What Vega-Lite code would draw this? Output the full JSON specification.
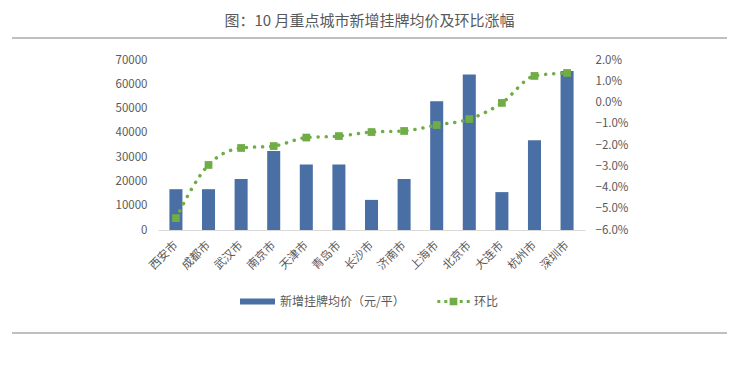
{
  "$schema": "https://vega.github.io/schema/vega-lite/v6.json",
  "autosize": "none",
  "width": 715,
  "height": 170,
  "padding": {"left": 12, "top": 60, "right": 13, "bottom": 142},
  "title": {"text": "图：10 月重点城市新增挂牌均价及环比涨幅", "fontSize": 15, "fontWeight": "normal", "color": "#595959", "anchor": "middle", "frame": "group", "offset": 8},
  "config": {
    "font": "Noto Sans CJK SC",
    "view": {"stroke": null},
    "axis": {"labelColor": "#595959", "labelFontSize": 11.5, "grid": false, "ticks": false, "title": null},
    "legend": {"labelColor": "#595959", "labelFontSize": 12}
  },
  "data": {"values": [
    {"city": "西安市", "price": 16800, "mom": -0.0544},
    {"city": "成都市", "price": 16800, "mom": -0.0294},
    {"city": "武汉市", "price": 21000, "mom": -0.0214},
    {"city": "南京市", "price": 32500, "mom": -0.0205},
    {"city": "天津市", "price": 27000, "mom": -0.0165},
    {"city": "青岛市", "price": 27000, "mom": -0.0158},
    {"city": "长沙市", "price": 12400, "mom": -0.0139},
    {"city": "济南市", "price": 21000, "mom": -0.0134},
    {"city": "上海市", "price": 53000, "mom": -0.0106},
    {"city": "北京市", "price": 64000, "mom": -0.0078},
    {"city": "大连市", "price": 15600, "mom": -0.0002},
    {"city": "杭州市", "price": 37000, "mom": 0.0125},
    {"city": "深圳市", "price": 65500, "mom": 0.0139}
  ]},
  "layer": [
    {
      "mark": {"type": "bar"},
      "encoding": {
        "x": {"field": "city", "type": "nominal", "sort": null,
          "scale": {"range": [146, 573], "paddingInner": 0.6, "paddingOuter": 0.35},
          "axis": {"labelAngle": -45, "domainColor": "#D9D9D9", "labelPadding": 9, "labelOffset": -4, "labelFontSize": 11.5}},
        "y": {"field": "price", "type": "quantitative",
          "scale": {"domain": [0, 70000]},
          "axis": {"values": [0, 10000, 20000, 30000, 40000, 50000, 60000, 70000], "format": "d", "domain": false, "labelPadding": 11, "offset": -146}},
        "color": {"datum": "新增挂牌均价（元/平）", "type": "nominal",
          "scale": {"range": ["#4A6FA5"]},
          "legend": {"orient": "none", "legendX": 228, "legendY": 224, "title": null, "symbolType": "M-1,-0.17H1V0.17H-1Z", "symbolSize": 1225, "symbolStrokeWidth": 0, "labelOffset": 5, "padding": 0}}
      }
    },
    {
      "layer": [
        {
          "mark": {"type": "rule", "stroke": "#BFBFBF", "strokeWidth": 1},
          "encoding": {"y": {"datum": 0.0304}}
        },
        {
          "mark": {"type": "rule", "stroke": "#BFBFBF", "strokeWidth": 1},
          "encoding": {"y": {"datum": -0.1085}}
        },
        {
          "mark": {"type": "line", "interpolate": "monotone", "strokeWidth": 3.5, "strokeDash": [0.1, 8], "strokeCap": "round",
            "point": {"shape": "square", "size": 60, "filled": true, "opacity": 1}},
          "encoding": {
            "x": {"field": "city", "type": "nominal", "sort": null},
            "y": {"field": "mom", "type": "quantitative"},
            "color": {"datum": "环比", "type": "nominal",
              "scale": {"range": ["#70AD47"]},
              "legend": {"orient": "none", "legendX": 424, "legendY": 224, "title": null,
                "symbolType": "M-0.925,-0.085h0.17v0.17h-0.17z M-0.525,-0.085h0.17v0.17h-0.17z M-0.22,-0.22h0.44v0.44h-0.44z M0.355,-0.085h0.17v0.17h-0.17z M0.755,-0.085h0.17v0.17h-0.17z",
                "symbolSize": 1225, "symbolFillColor": "#70AD47", "symbolStrokeWidth": 0, "labelOffset": 3, "padding": 0}}
          }
        }
      ],
      "encoding": {
        "y": {"type": "quantitative",
          "scale": {"domain": [-0.06, 0.02]},
          "axis": {"orient": "right", "values": [-0.06, -0.05, -0.04, -0.03, -0.02, -0.01, 0, 0.01, 0.02], "format": ".1%", "domain": false, "labelPadding": 10, "offset": -142}}
      }
    }
  ],
  "resolve": {"scale": {"y": "independent", "color": "independent"}}
}
